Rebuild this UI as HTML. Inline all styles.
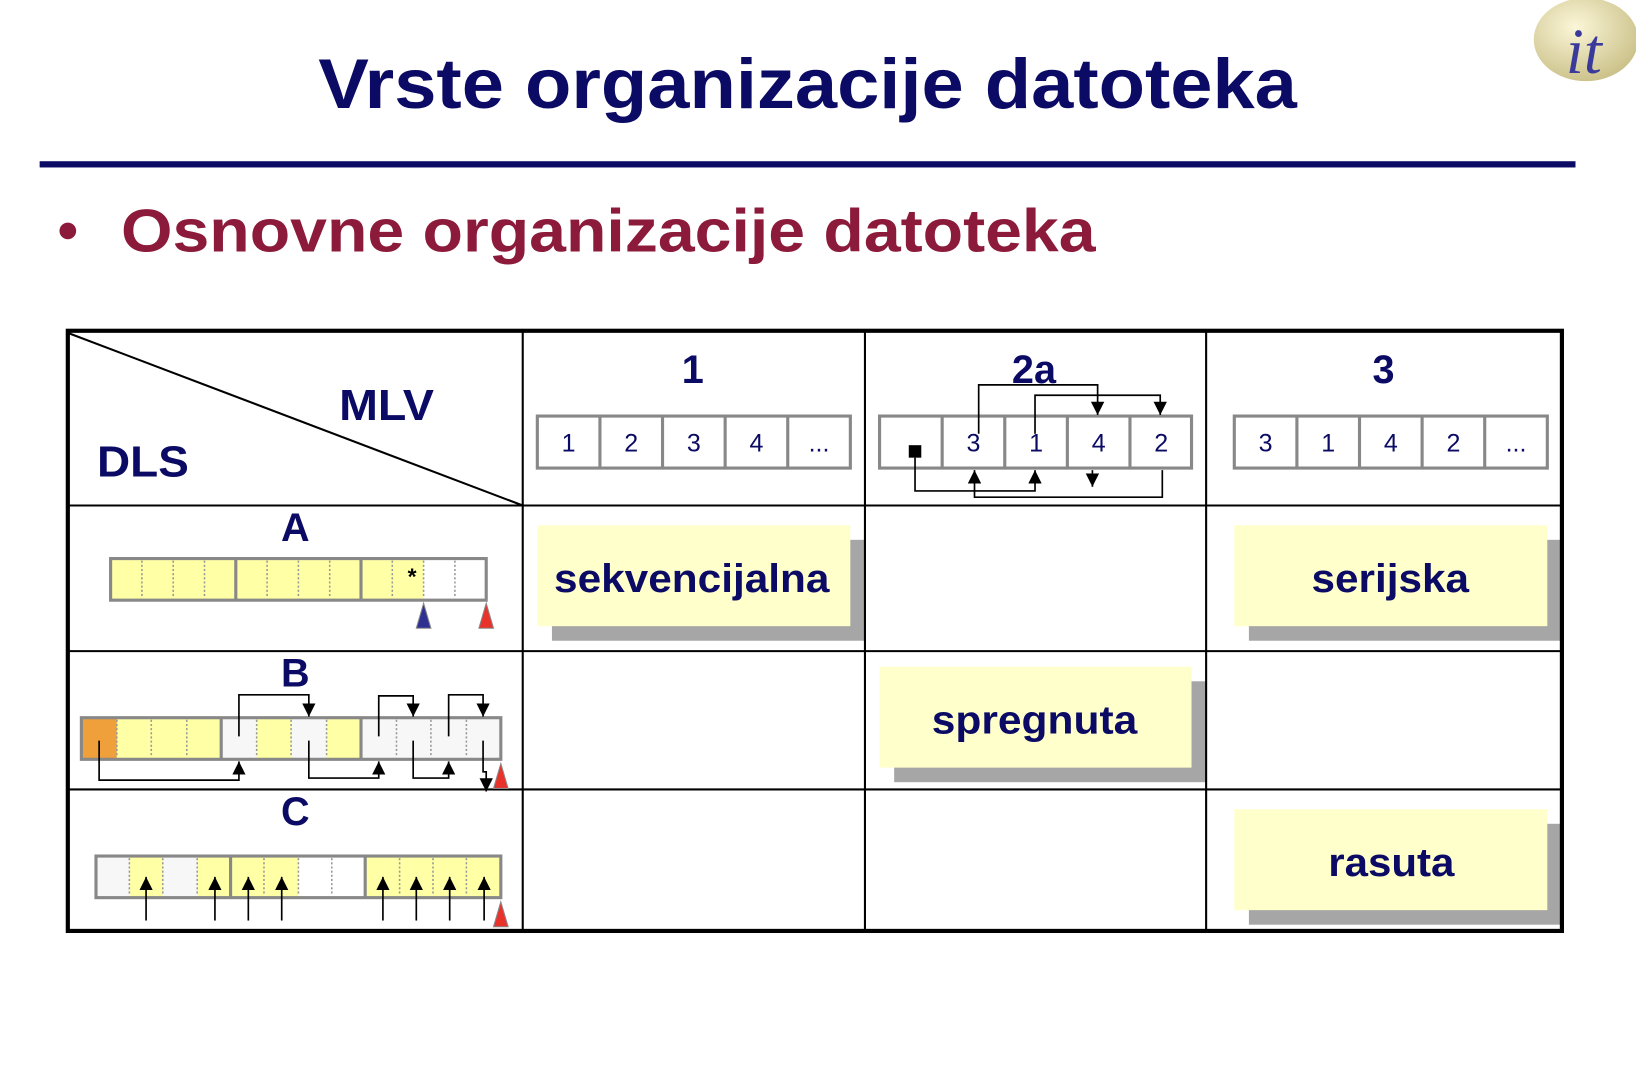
<!DOCTYPE html>
<html><head><meta charset="utf-8"><style>html,body{margin:0;padding:0;background:#fff}svg{display:block}</style></head>
<body>
<svg width="1636" height="1088" viewBox="0 0 1568 1046" preserveAspectRatio="none" xmlns="http://www.w3.org/2000/svg" font-family="Liberation Sans, Arial, sans-serif">
<defs>
<marker id="ah" viewBox="0 0 10 10" refX="10" refY="5" markerWidth="8" markerHeight="8" orient="auto"><path d="M0,0L10,5L0,10z" fill="#000"/></marker>
<radialGradient id="lg" cx="0.4" cy="0.35" r="0.7"><stop offset="0" stop-color="#fbf6d8"/><stop offset="1" stop-color="#c9bf86"/></radialGradient>
</defs>
<rect width="1568" height="1046" fill="#fff"/>
<ellipse cx="1520" cy="38" rx="50" ry="40" fill="url(#lg)"/>
<text x="1518" y="70" font-family="Liberation Serif, serif" font-style="italic" font-size="62" fill="#3a3a9a" text-anchor="middle">it</text>
<text x="305" y="104" font-size="68" font-weight="bold" fill="#0b0b66" textLength="938" lengthAdjust="spacingAndGlyphs">Vrste organizacije datoteka</text>
<rect x="38" y="155" width="1472" height="6" fill="#0b0b66"/>
<circle cx="65" cy="222" r="8" fill="#8c1b3b"/>
<text x="116" y="242" font-size="58" font-weight="bold" fill="#8c1b3b" textLength="934" lengthAdjust="spacingAndGlyphs">Osnovne organizacije datoteka</text>

<g font-size="38" font-weight="bold" fill="#0b0b66">
<rect x="529" y="519" width="300" height="97" fill="#a6a6a6"/><rect x="515" y="505" width="300" height="97" fill="#ffffcc"/><text x="531" y="569" fill="#0b0b66" textLength="264" lengthAdjust="spacingAndGlyphs">sekvencijalna</text>
<rect x="1197" y="519" width="300" height="97" fill="#a6a6a6"/><rect x="1183" y="505" width="300" height="97" fill="#ffffcc"/><text x="1257" y="569" fill="#0b0b66" textLength="151" lengthAdjust="spacingAndGlyphs">serijska</text>
<rect x="857" y="655" width="299" height="97" fill="#a6a6a6"/><rect x="843" y="641" width="299" height="97" fill="#ffffcc"/><text x="893" y="705" fill="#0b0b66" textLength="197" lengthAdjust="spacingAndGlyphs">spregnuta</text>
<rect x="1197" y="792" width="300" height="97" fill="#a6a6a6"/><rect x="1183" y="778" width="300" height="97" fill="#ffffcc"/><text x="1273" y="842" fill="#0b0b66" textLength="121" lengthAdjust="spacingAndGlyphs">rasuta</text>
</g>

<g stroke="#000" fill="none">
<line x1="501" y1="318" x2="501" y2="895" stroke-width="2"/>
<line x1="829" y1="318" x2="829" y2="895" stroke-width="2"/>
<line x1="1156" y1="318" x2="1156" y2="895" stroke-width="2"/>
<line x1="65" y1="486" x2="1497" y2="486" stroke-width="2"/>
<line x1="65" y1="626" x2="1497" y2="626" stroke-width="2"/>
<line x1="65" y1="759" x2="1497" y2="759" stroke-width="2"/>
<line x1="65" y1="320" x2="501" y2="486" stroke-width="2"/>
<rect x="65" y="318" width="1432" height="577" stroke-width="4"/>
</g>
<g font-weight="bold" fill="#0b0b66">
<text x="325" y="404" font-size="42" textLength="91" lengthAdjust="spacingAndGlyphs">MLV</text>
<text x="93" y="458" font-size="42" textLength="88" lengthAdjust="spacingAndGlyphs">DLS</text>
<text x="664" y="368" font-size="38" text-anchor="middle">1</text>
<text x="991" y="368" font-size="38" text-anchor="middle">2a</text>
<text x="1326" y="368" font-size="38" text-anchor="middle">3</text>
<text x="283" y="520" font-size="38" text-anchor="middle">A</text>
<text x="283" y="660" font-size="38" text-anchor="middle">B</text>
<text x="283" y="793" font-size="38" text-anchor="middle">C</text>
</g>

<g stroke="#888" stroke-width="3" fill="#fff">
<rect x="515" y="400" width="300" height="50"/><rect x="843" y="400" width="299" height="50"/><rect x="1183" y="400" width="300" height="50"/>
<path d="M575 400v50M635 400v50M695 400v50M755 400v50M903 400v50M963 400v50M1023 400v50M1083 400v50M1243 400v50M1303 400v50M1363 400v50M1423 400v50"/>
</g>
<g font-size="24" fill="#0b0b66" text-anchor="middle">
<text x="545" y="434">1</text><text x="605" y="434">2</text><text x="665" y="434">3</text><text x="725" y="434">4</text><text x="785" y="434">...</text>
<text x="933" y="434">3</text><text x="993" y="434">1</text><text x="1053" y="434">4</text><text x="1113" y="434">2</text>
<text x="1213" y="434">3</text><text x="1273" y="434">1</text><text x="1333" y="434">4</text><text x="1393" y="434">2</text><text x="1453" y="434">...</text>
</g>
<rect x="871" y="428" width="12" height="12" fill="#000"/>
<g stroke="#000" stroke-width="1.6" fill="none" marker-end="url(#ah)">
<path d="M938 417V370H1052V399"/>
<path d="M992 417V380H1112V399"/>
<path d="M877 440V472H992V452"/>
<path d="M1114 452V478H934V452"/>
<path d="M1047 452V468"/>
</g>

<rect x="106" y="537" width="300" height="40" fill="#ffffa6"/>
<g stroke="#999" stroke-width="1.5" stroke-dasharray="2,2">
<path d="M136 539v36M166 539v36M196 539v36M256 539v36M286 539v36M316 539v36M376 539v36M406 539v36M436 539v36"/>
</g>
<g stroke="#888" stroke-width="3" fill="none"><rect x="106" y="537" width="360" height="40"/><path d="M226 537v40M346 537v40"/></g>
<text x="395" y="562" font-size="22" font-weight="bold" text-anchor="middle">*</text>
<path d="M406 580L399 604H413z" fill="#2e3192" stroke="#888"/>
<path d="M466 580L459 604H473z" fill="#e8322a" stroke="#888"/>

<rect x="78" y="690" width="402" height="40" fill="#f7f7f7"/>
<rect x="78" y="690" width="34" height="40" fill="#f0a03a"/>
<rect x="112" y="690" width="100" height="40" fill="#ffffa6"/>
<rect x="246" y="690" width="33" height="40" fill="#ffffa6"/>
<rect x="313" y="690" width="33" height="40" fill="#ffffa6"/>
<g stroke="#999" stroke-width="1.5" stroke-dasharray="2,2">
<path d="M112 692v36M145 692v36M179 692v36M246 692v36M279 692v36M313 692v36M380 692v36M413 692v36M447 692v36"/>
</g>
<g stroke="#888" stroke-width="3" fill="none"><rect x="78" y="690" width="402" height="40"/><path d="M212 690v40M346 690v40"/></g>
<g stroke="#000" stroke-width="1.6" fill="none" marker-end="url(#ah)">
<path d="M229 708V668H296V689"/>
<path d="M363 708V669H396V689"/>
<path d="M430 708V668H463V689"/>
<path d="M95 712V750H229V732"/>
<path d="M296 712V748H363V732"/>
<path d="M396 712V748H430V732"/>
<path d="M463 712V742H466V761"/>
</g>
<path d="M480 734L473 758H487z" fill="#e8322a" stroke="#888"/>

<rect x="92" y="823" width="388" height="40" fill="#ffffa6"/>
<rect x="92" y="823" width="32" height="40" fill="#f7f7f7"/>
<rect x="156" y="823" width="33" height="40" fill="#f7f7f7"/>
<rect x="286" y="823" width="64" height="40" fill="#fff"/>
<g stroke="#999" stroke-width="1.5" stroke-dasharray="2,2">
<path d="M124 825v36M156 825v36M189 825v36M253 825v36M286 825v36M318 825v36M383 825v36M415 825v36M447 825v36"/>
</g>
<g stroke="#888" stroke-width="3" fill="none"><rect x="92" y="823" width="388" height="40"/><path d="M221 823v40M350 823v40"/></g>
<g stroke="#000" stroke-width="1.6" fill="none" marker-end="url(#ah)">
<path d="M140 885V843"/><path d="M206 885V843"/><path d="M238 885V843"/><path d="M270 885V843"/>
<path d="M367 885V843"/><path d="M399 885V843"/><path d="M431 885V843"/><path d="M464 885V843"/>
</g>
<path d="M480 867L473 891H487z" fill="#e8322a" stroke="#888"/>
</svg>
</body></html>
